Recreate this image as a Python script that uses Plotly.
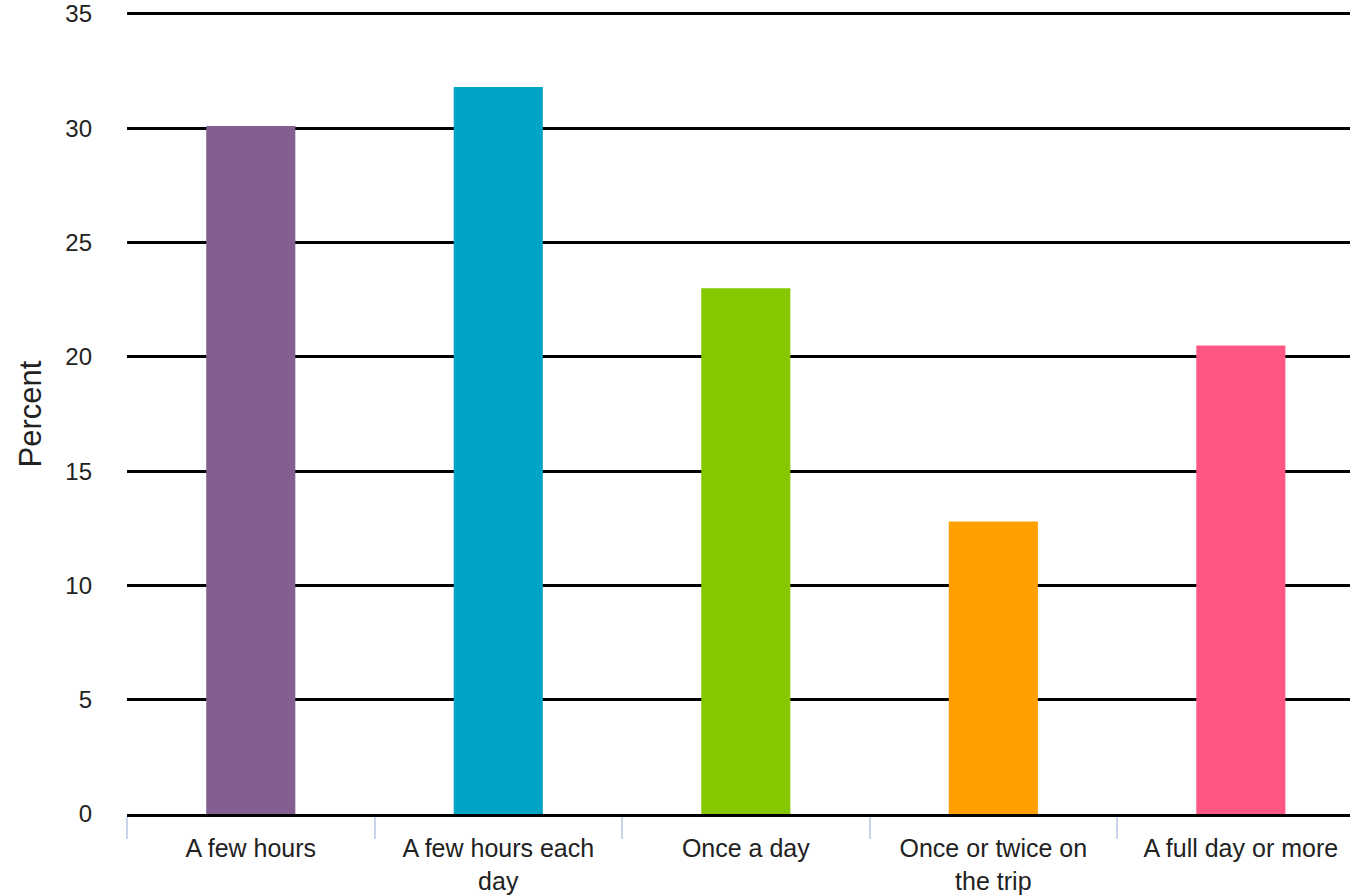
import plotly.graph_objects as go

# Survey responses: how often people checked in while travelling
categories = [
    "A few hours",
    "A few hours each<br>day",
    "Once a day",
    "Once or twice on<br>the trip",
    "A full day or more",
]
percent = [30.1, 31.8, 23.0, 12.8, 20.5]
bar_colors = ["#825F90", "#00A4C4", "#86C800", "#FF9F00", "#FF5784"]
y_ticks = [0, 5, 10, 15, 20, 25, 30, 35]

W, H = 1350, 896
M_LEFT, M_TOP, M_BOTTOM = 127, 11, 82

fig = go.Figure(
    go.Bar(
        x=categories,
        y=percent,
        marker=dict(color=bar_colors, line=dict(width=0)),
        hoverinfo="x+y",
    )
)

font_family = "Liberation Sans, Arial, sans-serif"
text_color = "#222222"

fig.update_layout(
    width=W,
    height=H,
    margin=dict(l=M_LEFT, r=0, t=M_TOP, b=M_BOTTOM),
    paper_bgcolor="white",
    plot_bgcolor="white",
    bargap=0.64,
    showlegend=False,
    font=dict(family=font_family, size=24, color=text_color),
)

fig.update_xaxes(
    type="category",
    range=[-0.5, 4.441],
    showgrid=False,
    showline=True,
    linecolor="black",
    linewidth=3,
    ticks="outside",
    tickson="boundaries",
    ticklen=22,
    tickwidth=2,
    tickcolor="#C8D2EA",
    ticklabelstandoff=10,
    tickfont=dict(size=25, color=text_color),
)

fig.update_yaxes(
    range=[0, 35.13],
    tickvals=y_ticks,
    showgrid=True,
    gridcolor="black",
    gridwidth=3,
    zeroline=False,
    showline=False,
    ticks="",
    ticklabelstandoff=34,
    tickfont=dict(size=24, color=text_color),
)

# Vertical axis caption, placed in pixel terms left of the tick labels
plot_w = W - M_LEFT
fig.add_annotation(
    text="Percent",
    textangle=-90,
    xref="paper",
    yref="paper",
    x=(30 - M_LEFT) / plot_w,
    y=0.5 - 2 / (H - M_TOP - M_BOTTOM),
    xanchor="center",
    yanchor="middle",
    showarrow=False,
    font=dict(size=31, color=text_color),
)

fig.write_html("out.html")
